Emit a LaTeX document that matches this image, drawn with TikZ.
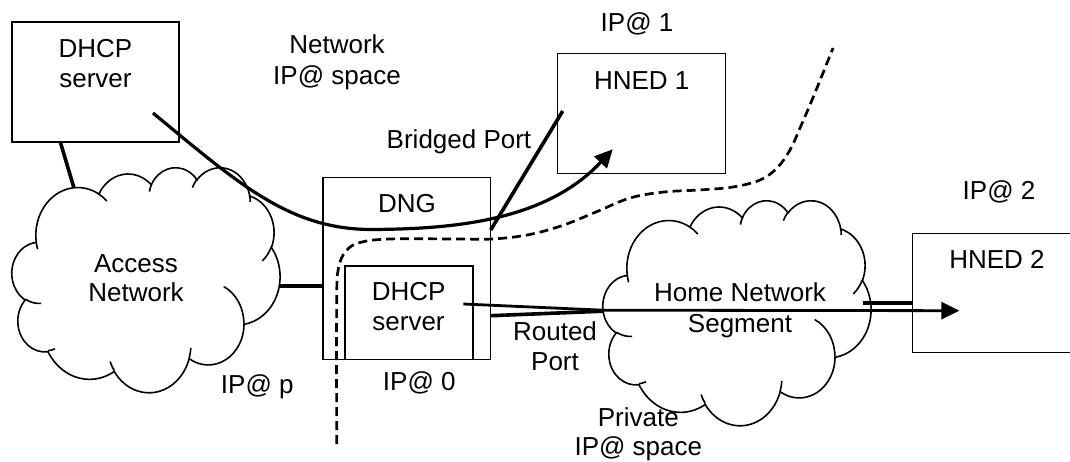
\documentclass[tikz,border=0pt]{standalone}
\usepackage{fontspec}
\setmainfont{Liberation Sans}
\usetikzlibrary{arrows.meta,calc}
\newcommand\officecloud[2]{%
\begin{scope}[shift={(#1,#2)},x=2.68pt,y=-2.25pt]
\draw[cloudline] (9.028,33.264)
 arc[start angle=172.25,end angle=300.36,x radius=15.632,y radius=21.273]
 arc[start angle=-152.02,end angle=-45.47,x radius=12.345,y radius=16.822]
 arc[start angle=-153.49,end angle=-37.32,x radius=10.104,y radius=13.762]
 arc[start angle=-139.72,end angle=-10.22,x radius=11.243,y radius=15.266]
 arc[start angle=-74.77,end angle=23.21,x radius=12.345,y radius=16.836]
 arc[start angle=-37.52,end angle=81.86,x radius=15.683,y radius=21.343]
 arc[start angle=0.46,end angle=121.98,x radius=13.391,y radius=18.211]
 arc[start angle=16.85,end angle=146.22,x radius=15.630,y radius=21.331]
 arc[start angle=58.97,end angle=150.19,x radius=17.870,y radius=24.405]
 arc[start angle=83.31,end angle=223.12,x radius=10.093,y radius=13.699]
 arc[start angle=120.36,end angle=264.11,x radius=10.058,y radius=13.762]
 -- cycle;
\draw[cloudline]
 (10.863,60.595) arc[start angle=85.54,end angle=120.36,x radius=10.058,y radius=13.762]
 (16.037,80.785) arc[start angle=68.25,end angle=83.31,x radius=10.093,y radius=13.699]
 (38.144,90.486) arc[start angle=146.22,end angle=158.47,x radius=15.630,y radius=21.331]
 (66.729,80.442) arc[start angle=4.74,end angle=16.85,x radius=15.630,y radius=21.331]
 (79.002,53.134) arc[start angle=-64.03,end angle=0.46,x radius=13.391,y radius=18.211]
 (96.755,35.542) arc[start angle=23.21,end angle=49.64,x radius=12.345,y radius=16.836]
 (88.713,12.560) arc[start angle=-10.22,end angle=0.82,x radius=11.243,y radius=15.266]
 (67.310,9.148) arc[start angle=-156.29,end angle=-139.72,x radius=11.243,y radius=15.266]
 (51.252,10.926) arc[start angle=-167.73,end angle=-153.49,x radius=10.104,y radius=13.762]
 (32.407,12.019) arc[start angle=-59.64,end angle=-45.74,x radius=15.632,y radius=21.273]
 (9.553,36.549) arc[start angle=163.19,end angle=172.25,x radius=15.632,y radius=21.273];
\end{scope}}
\begin{document}
\begin{tikzpicture}[x=1pt,y=-1pt,
  box/.style={draw,rectangle,line width=1.5pt,inner sep=0pt,outer sep=0pt},
  lbl/.style={anchor=base,inner sep=0pt,outer sep=0pt,font=\fontsize{26}{30}\selectfont},
  cloudline/.style={line width=1.6pt},
  conn/.style={line width=3.6pt},
  flow/.style={line width=3.2pt,-{Triangle[length=18pt,width=17pt]}},
  bound/.style={line width=2.7pt,dash pattern=on 9pt off 5pt}]
\useasboundingbox (0,0) rectangle (1070,462);
\fill[white] (0,0) rectangle (1070,462);

% boxes
\node[box,minimum width=167pt,minimum height=120pt] (dhcp1) at (95.5,82) {};
\node[box,minimum width=168pt,minimum height=120pt] (hned1) at (641.6,113.3) {};
\node[box,minimum width=167.7pt,minimum height=182.2pt] (dng) at (406.85,268.4) {};
\node[box,minimum width=128pt,minimum height=93.5pt] (dhcp2) at (409,312.75) {};
\node[box,minimum width=162.5pt,minimum height=119.4pt] (hned2) at (993.75,293) {};

% clouds
\officecloud{12}{167}
\officecloud{603}{200}

% labels
\node[lbl] (t1) at (95.5,57.3) {DHCP};
\node[lbl] (t2) at (95.5,87.3) {server};
\node[lbl] (t3) at (337,54) {Network};
\node[lbl] (t4) at (337,85) {IP@ space};
\node[lbl] (t5) at (637,31.7) {IP@ 1};
\node[lbl] (t6) at (641.7,89.3) {HNED 1};
\node[lbl] (t7) at (459,149) {Bridged Port};
\node[lbl] (t8) at (407,212.7) {DNG};
\node[lbl] (t9) at (999,200) {IP@ 2};
\node[lbl] (t10) at (997,268.3) {HNED 2};
\node[lbl] (t11) at (136,272.7) {Access};
\node[lbl] (t12) at (136,301.7) {Network};
\node[lbl] (t13) at (408.7,300) {DHCP};
\node[lbl] (t14) at (408.5,330.7) {server};
\node[lbl] (t15) at (740,301.7) {Home Network};
\node[lbl] (t16) at (740,332.7) {Segment};
\node[lbl] (t17) at (555,340) {Routed};
\node[lbl] (t18) at (555,370) {Port};
\node[lbl] (t19) at (257.3,393.3) {IP@ p};
\node[lbl] (t20) at (419.3,390) {IP@ 0};
\node[lbl] (t21) at (638.3,426.7) {Private};
\node[lbl] (t22) at (638.3,455) {IP@ space};

% connector end points
\coordinate (acTop) at (74,188);
\coordinate (acRight) at (279,286);
\coordinate (hcLeft) at (603.3,311.2);
\coordinate (hcRight) at (863,302.7);
\coordinate (flowA) at (153,113);
\coordinate (flowB) at (372,229.5);
\coordinate (flowC) at (612.7,149.3);
\coordinate (flowD) at (463.3,304);
\coordinate (flowE) at (603,310.2);
\coordinate (flowF) at (959.3,310.7);
\coordinate (bridgeTop) at (562.7,111);

% connectors
\draw[conn] ([xshift=48.3pt]dhcp1.south west) -- (acTop);
\draw[conn] (acRight) -- (acRight -| dng.west);
\draw[conn] (dng.east |- 0,230) -- (bridgeTop);
\draw[conn] (dng.east |- 0,315.7) -- (hcLeft);
\draw[conn] (hcRight) -- (hcRight -| hned2.west);
\draw[flow] (flowA) .. controls (240,185) and (290,229.5) .. (flowB)
  .. controls (450,229) and (545,222) .. (flowC);
\draw[flow,line width=2.8pt] (flowD) -- (flowE) -- (flowF);

% domain boundary
\draw[bound] plot[smooth,tension=0.6] coordinates {(336.7,444) (336.7,300) (338.5,268) (346,251) (360,242.5) (390,239) (457,239) (492,239) (527,235) (561,226) (596,212) (630,198) (664,192) (699,190) (733,187) (760,180) (777,168) (790,150) (800,128) (812,100) (823,73) (833,48)};
\end{tikzpicture}
\end{document}
